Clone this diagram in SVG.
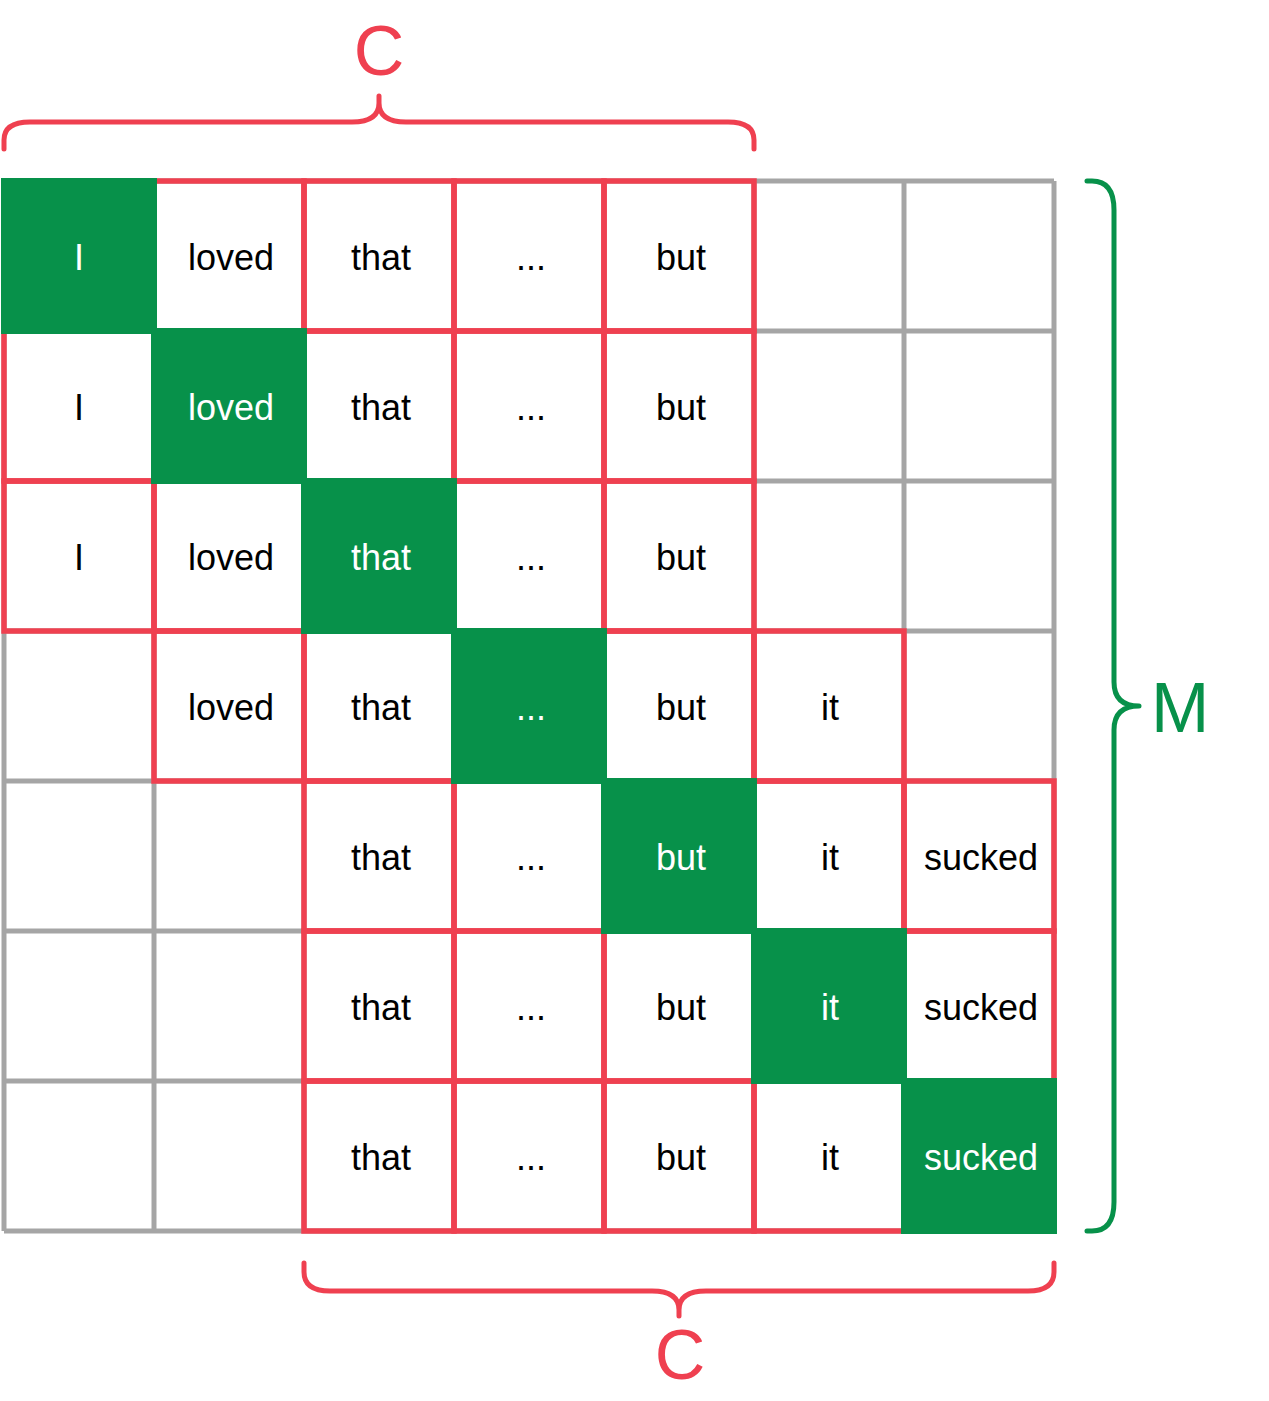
<svg xmlns="http://www.w3.org/2000/svg" width="1269" height="1401" viewBox="0 0 1269 1401">
<style>
.grid{stroke:#a5a5a5;stroke-width:5;fill:none}
.win{stroke:#ef4050;stroke-width:5.5;fill:none}
.diag{fill:#07914a}
.t{font-family:"Liberation Sans",Arial,sans-serif;font-size:36px;text-anchor:middle;fill:#000}
.tw{fill:#fff}
.brace{fill:none;stroke-width:5;stroke-linecap:round;stroke-linejoin:round}
.lbl{font-family:"Liberation Sans",Arial,sans-serif;font-size:70px}
</style>
<rect width="1269" height="1401" fill="#fff"/>
<g id="grid" class="grid">
<path d="M4,181H1054M4,331H1054M4,481H1054M4,631H1054M4,781H1054M4,931H1054M4,1081H1054M4,1231H1054"/>
<path d="M4,181V1231M154,181V1231M304,181V1231M454,181V1231M604,181V1231M754,181V1231M904,181V1231M1054,181V1231"/>
</g>
<g id="r0c1"><rect class="win" x="154" y="181" width="150" height="150"/><text class="t" x="231" y="270">loved</text></g>
<g id="r0c2"><rect class="win" x="304" y="181" width="150" height="150"/><text class="t" x="381" y="270">that</text></g>
<g id="r0c3"><rect class="win" x="454" y="181" width="150" height="150"/><text class="t" x="531" y="270">...</text></g>
<g id="r0c4"><rect class="win" x="604" y="181" width="150" height="150"/><text class="t" x="681" y="270">but</text></g>
<g id="r1c0"><rect class="win" x="4" y="331" width="150" height="150"/><text class="t" x="79" y="420">I</text></g>
<g id="r1c2"><rect class="win" x="304" y="331" width="150" height="150"/><text class="t" x="381" y="420">that</text></g>
<g id="r1c3"><rect class="win" x="454" y="331" width="150" height="150"/><text class="t" x="531" y="420">...</text></g>
<g id="r1c4"><rect class="win" x="604" y="331" width="150" height="150"/><text class="t" x="681" y="420">but</text></g>
<g id="r2c0"><rect class="win" x="4" y="481" width="150" height="150"/><text class="t" x="79" y="570">I</text></g>
<g id="r2c1"><rect class="win" x="154" y="481" width="150" height="150"/><text class="t" x="231" y="570">loved</text></g>
<g id="r2c3"><rect class="win" x="454" y="481" width="150" height="150"/><text class="t" x="531" y="570">...</text></g>
<g id="r2c4"><rect class="win" x="604" y="481" width="150" height="150"/><text class="t" x="681" y="570">but</text></g>
<g id="r3c1"><rect class="win" x="154" y="631" width="150" height="150"/><text class="t" x="231" y="720">loved</text></g>
<g id="r3c2"><rect class="win" x="304" y="631" width="150" height="150"/><text class="t" x="381" y="720">that</text></g>
<g id="r3c4"><rect class="win" x="604" y="631" width="150" height="150"/><text class="t" x="681" y="720">but</text></g>
<g id="r3c5"><rect class="win" x="754" y="631" width="150" height="150"/><text class="t" x="830" y="720">it</text></g>
<g id="r4c2"><rect class="win" x="304" y="781" width="150" height="150"/><text class="t" x="381" y="870">that</text></g>
<g id="r4c3"><rect class="win" x="454" y="781" width="150" height="150"/><text class="t" x="531" y="870">...</text></g>
<g id="r4c5"><rect class="win" x="754" y="781" width="150" height="150"/><text class="t" x="830" y="870">it</text></g>
<g id="r4c6"><rect class="win" x="904" y="781" width="150" height="150"/><text class="t" x="981" y="870">sucked</text></g>
<g id="r5c2"><rect class="win" x="304" y="931" width="150" height="150"/><text class="t" x="381" y="1020">that</text></g>
<g id="r5c3"><rect class="win" x="454" y="931" width="150" height="150"/><text class="t" x="531" y="1020">...</text></g>
<g id="r5c4"><rect class="win" x="604" y="931" width="150" height="150"/><text class="t" x="681" y="1020">but</text></g>
<g id="r5c6"><rect class="win" x="904" y="931" width="150" height="150"/><text class="t" x="981" y="1020">sucked</text></g>
<g id="r6c2"><rect class="win" x="304" y="1081" width="150" height="150"/><text class="t" x="381" y="1170">that</text></g>
<g id="r6c3"><rect class="win" x="454" y="1081" width="150" height="150"/><text class="t" x="531" y="1170">...</text></g>
<g id="r6c4"><rect class="win" x="604" y="1081" width="150" height="150"/><text class="t" x="681" y="1170">but</text></g>
<g id="r6c5"><rect class="win" x="754" y="1081" width="150" height="150"/><text class="t" x="830" y="1170">it</text></g>
<g id="d0"><rect class="diag" x="1" y="178" width="156" height="156"/><text class="t tw" x="79" y="270">I</text></g>
<g id="d1"><rect class="diag" x="151" y="328" width="156" height="156"/><text class="t tw" x="231" y="420">loved</text></g>
<g id="d2"><rect class="diag" x="301" y="478" width="156" height="156"/><text class="t tw" x="381" y="570">that</text></g>
<g id="d3"><rect class="diag" x="451" y="628" width="156" height="156"/><text class="t tw" x="531" y="720">...</text></g>
<g id="d4"><rect class="diag" x="601" y="778" width="156" height="156"/><text class="t tw" x="681" y="870">but</text></g>
<g id="d5"><rect class="diag" x="751" y="928" width="156" height="156"/><text class="t tw" x="830" y="1020">it</text></g>
<g id="d6"><rect class="diag" x="901" y="1078" width="156" height="156"/><text class="t tw" x="981" y="1170">sucked</text></g>
<g id="braces">
<path class="brace" stroke="#ef4050" d="M4,149V140Q4,122 30,122H352Q379,122 379,103V96M379,103Q379,122 406,122H728Q754,122 754,140V149"/>
<path class="brace" stroke="#ef4050" d="M304,1263V1272Q304,1291 330,1291H652Q679,1291 679,1310V1316M679,1310Q679,1291 706,1291H1028Q1054,1291 1054,1272V1263"/>
<path class="brace" stroke="#07914a" d="M1087,181H1092Q1114,181 1114,210V682Q1114,706 1139,706M1139,706Q1114,706 1114,730V1202Q1114,1231 1092,1231H1087"/>
</g>
<text id="labelCtop" class="lbl" x="379" y="75" text-anchor="middle" fill="#ef4050">C</text>
<text id="labelCbot" class="lbl" x="680" y="1379" text-anchor="middle" fill="#ef4050">C</text>
<text id="labelM" class="lbl" x="1151" y="732" fill="#07914a">M</text>
</svg>
